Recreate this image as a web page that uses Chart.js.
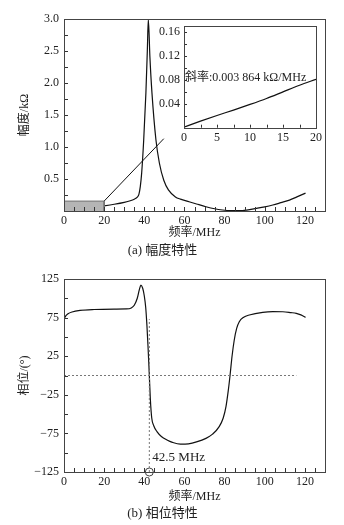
<!DOCTYPE html>
<html><head><meta charset="utf-8">
<script src="https://cdn.jsdelivr.net/npm/chart.js@4.4.1/dist/chart.umd.min.js"></script>
<style>
html,body{margin:0;padding:0;background:#fff;}
#wrap{position:relative;width:344px;height:525px;overflow:hidden;background:#fff;}
canvas{position:absolute;}
</style></head><body>
<div id="wrap">
<canvas id="amp" width="344" height="260" style="left:0;top:0"></canvas>
<canvas id="inset" width="180" height="130" style="left:148px;top:15px"></canvas>
<canvas id="phase" width="344" height="265" style="left:0;top:260px"></canvas>
</div>
<script>
// ---------- data ----------
const ampFreq  = [0,5,10,15,20,25,30,33,35,36.5,37.3,38,38.7,39.7,40.8,41.5,42,42.8,43.8,45.8,47.5,49.7,52,55.5,58,62.3,66,70.7,75,79,83,87.3,91,95.7,100,104,108,112.3,116,120.3];
const ampValue = [0,0.02,0.039,0.06,0.081,0.105,0.135,0.16,0.185,0.215,0.26,0.38,0.6,1.11,1.85,2.5,3.0,2.4,1.85,1.11,0.75,0.48,0.33,0.22,0.185,0.145,0.11,0.067,0.035,0.016,0.006,0.005,0.015,0.04,0.065,0.094,0.13,0.17,0.22,0.28];

const zoomFreq  = [0,20,20];
const zoomValue = [0.155,0.155,0];
const connectorFreq  = [20,49.7];
const connectorValue = [0.155,1.13];

const insetFreq  = [0,2.5,5,7.5,10,12.5,15,17.5,20];
const insetValue = [0.001,0.011,0.0205,0.0295,0.039,0.049,0.060,0.071,0.081];
const slopeText = '斜率:0.003 864 kΩ/MHz';

const phaseFreq  = [0,0.8,2,4,8,15,25,31,33.5,35,36.5,37.5,38.3,39.2,40,40.7,41.3,41.9,42.5,43,43.7,44.7,46.3,48.5,51.3,54,58,62,66,70.7,74,77.3,79.3,80.7,81.8,82.7,83.7,84.8,86,87.3,89.5,92.3,99,104,109,113,115.7,118,120.3];
const phaseValue = [73,77,80,82.3,84.3,85.5,86,86.2,87.5,91,100,111,117,113,103,88,65,35,0,-30,-55,-65,-72.7,-79,-83.5,-86.6,-89,-88.5,-86,-81.4,-76,-66.3,-55,-40,-20,0,25,46,61,69.7,75.5,78.4,81.8,82.7,82.6,81.5,80.5,78.5,75.3];
const zeroFreq  = [0,115.7];
const zeroPhase = [0,0];
const resFreq   = [42.5,42.5];
const resPhase  = [-125,73];
const resonanceText = '42.5 MHz';

// tick labels
const freqTickValues = [0,20,40,60,80,100,120];
const freqTickText   = ['0','20','40','60','80','100','120'];
const ampTickValues  = [0.5,1,1.5,2,2.5,3];
const ampTickText    = ['0.5','1.0','1.5','2.0','2.5','3.0'];
const insetXTickValues = [0,5,10,15,20];
const insetXTickText   = ['0','5','10','15','20'];
const insetYTickValues = [0.04,0.08,0.12,0.16];
const insetYTickText   = ['0.04','0.08','0.12','0.16'];
const phaseTickValues = [125,75,25,-25,-75,-125];
const phaseTickText   = ['125','75','25','−25','−75','−125'];

// ---------- helpers ----------
const FAM = '"Liberation Serif", "Times New Roman", "Noto Sans CJK SC", serif';
const zip = (xs, ys) => xs.map((x,i)=>({x, y: ys[i]}));
const labeler = (vals, texts) => v => { const i = vals.findIndex(t => Math.abs(t - v) < 1e-6); return i < 0 ? '' : texts[i]; };
// axis tick positions (minor + major) for a given step
const stepTicks = step => s => {
  const out = [];
  const n = Math.floor((s.max - s.min) / step + 1e-6);
  for (let i = 0; i <= n; i++) out.push({ value: +(s.min + i * step).toFixed(6) });
  s.ticks = out;
};

const frameTicks = {
  id: 'frameTicks',
  afterDatasetsDraw(chart, args, opts) {
    const {ctx, chartArea: a, scales} = chart;
    const xs = scales.x, ys = scales.y;
    ctx.save();
    ctx.strokeStyle = '#333';
    ctx.lineWidth = 1;
    ctx.beginPath();
    xs.ticks.forEach(t => {
      const px = Math.round(xs.getPixelForValue(t.value)) + 0.5;
      ctx.moveTo(px, a.bottom); ctx.lineTo(px, a.bottom - opts.len);
    });
    ys.ticks.forEach(t => {
      const py = Math.round(ys.getPixelForValue(t.value)) + 0.5;
      ctx.moveTo(a.left, py); ctx.lineTo(a.left + opts.len, py);
    });
    ctx.stroke();
    ctx.strokeStyle = '#444';
    ctx.strokeRect(Math.round(a.left) + 0.5, Math.round(a.top) + 0.5, Math.round(a.right - a.left), Math.round(a.bottom - a.top));
    ctx.restore();
  }
};

const textMarks = {
  id: 'textMarks',
  afterDatasetsDraw(chart, args, opts) {
    if (!opts.items) return;
    const {ctx, scales} = chart;
    ctx.save();
    opts.items.forEach(it => {
      ctx.font = it.size + 'px ' + FAM;
      ctx.fillStyle = '#222';
      ctx.textAlign = 'left';
      ctx.textBaseline = 'middle';
      ctx.fillText(it.text, scales.x.getPixelForValue(it.x) + (it.dx || 0), scales.y.getPixelForValue(it.y));
    });
    ctx.restore();
  }
};

const tickFont = {family: FAM, size: 12};
const noGrid = { display: false, drawTicks: false };
const base = { responsive: false, animation: false, devicePixelRatio: 1 };

// ---------- (a) amplitude ----------
new Chart(document.getElementById('amp'), {
  type: 'line',
  data: { datasets: [
    { data: zip(zoomFreq, zoomValue), borderColor: '#707070', borderWidth: 1, backgroundColor: '#b5b5b5', fill: 'origin', pointRadius: 0, tension: 0 },
    { data: zip(connectorFreq, connectorValue), borderColor: '#111', borderWidth: 1, pointRadius: 0, fill: false },
    { data: zip(ampFreq, ampValue), borderColor: '#111', borderWidth: 1.2, pointRadius: 0, fill: false, cubicInterpolationMode: 'monotone' }
  ]},
  options: { ...base,
    layout: { padding: { left: 0, right: 19, top: 19, bottom: 0 } },
    plugins: {
      legend: { display: false }, tooltip: { enabled: false },
      title: { display: true, position: 'bottom', text: '(a) 幅度特性', color: '#222', font: { family: FAM, size: 13, weight: 'normal' }, padding: { top: 0, bottom: 2 } },
      frameTicks: { len: 4 }
    },
    scales: {
      x: { type: 'linear', min: 0, max: 130, grid: noGrid, border: { display: false },
        afterBuildTicks: stepTicks(5),
        ticks: { autoSkip: false, maxRotation: 0, padding: 3, color: '#222', font: tickFont, callback: labeler(freqTickValues, freqTickText) },
        title: { display: true, text: '频率/MHz', color: '#222', font: { family: FAM, size: 12 }, padding: { top: 0, bottom: 2 } },
        afterFit: s => { s.height = 31.4; } },
      y: { type: 'linear', min: 0, max: 3, grid: noGrid, border: { display: false },
        afterBuildTicks: stepTicks(0.25),
        ticks: { autoSkip: false, padding: 5, color: '#222', font: tickFont, callback: labeler(ampTickValues, ampTickText) },
        title: { display: true, text: '幅度/kΩ', color: '#222', font: { family: FAM, size: 12 }, padding: { top: 18, bottom: 0 } },
        afterFit: s => { s.width = 64; } }
    }
  },
  plugins: [frameTicks]
});

// ---------- inset ----------
new Chart(document.getElementById('inset'), {
  type: 'line',
  data: { datasets: [
    { data: zip(insetFreq, insetValue), borderColor: '#111', borderWidth: 1.2, pointRadius: 0, fill: false, cubicInterpolationMode: 'monotone' }
  ]},
  options: { ...base,
    layout: { padding: { left: 0, right: 12, top: 9, bottom: 0 } },
    plugins: {
      legend: { display: false }, tooltip: { enabled: false },
      frameTicks: { len: 3 },
      textMarks: { items: [ { text: slopeText, x: 0, y: 0.083, size: 12, dx: 1 } ] }
    },
    scales: {
      x: { type: 'linear', min: 0, max: 20, grid: noGrid, border: { display: false },
        afterBuildTicks: stepTicks(2.5),
        ticks: { autoSkip: false, maxRotation: 0, padding: 3, color: '#222', font: tickFont, callback: labeler(insetXTickValues, insetXTickText) },
        afterFit: s => { s.height = 17.3; } },
      y: { type: 'linear', min: 0, max: 0.17, grid: noGrid, border: { display: false },
        afterBuildTicks: stepTicks(0.02),
        ticks: { autoSkip: false, padding: 4, color: '#222', font: tickFont, callback: labeler(insetYTickValues, insetYTickText) },
        afterFit: s => { s.width = 36; } }
    }
  },
  plugins: [frameTicks, textMarks]
});

// ---------- (b) phase ----------
new Chart(document.getElementById('phase'), {
  type: 'line',
  data: { datasets: [
    { data: zip(zeroFreq, zeroPhase), borderColor: '#777', borderWidth: 1, borderDash: [2, 2], pointRadius: 0, fill: false },
    { data: zip(resFreq, resPhase), borderColor: '#777', borderWidth: 1, borderDash: [2, 2], pointRadius: 0, fill: false },
    { data: zip(phaseFreq, phaseValue), borderColor: '#111', borderWidth: 1.2, pointRadius: 0, fill: false, cubicInterpolationMode: 'monotone' },
    { data: zip([resFreq[0]], [resPhase[0]]), showLine: false, pointRadius: 4, pointStyle: 'circle', pointBorderColor: '#444', pointBorderWidth: 1, pointBackgroundColor: 'rgba(0,0,0,0)', clip: false }
  ]},
  options: { ...base,
    layout: { padding: { left: 0, right: 19, top: 19, bottom: 0 } },
    plugins: {
      legend: { display: false }, tooltip: { enabled: false },
      title: { display: true, position: 'bottom', text: '(b) 相位特性', color: '#222', font: { family: FAM, size: 13, weight: 'normal' }, padding: { top: 0, bottom: 4 } },
      frameTicks: { len: 4 },
      textMarks: { items: [ { text: resonanceText, x: 44, y: -106, size: 13 } ] }
    },
    scales: {
      x: { type: 'linear', min: 0, max: 130, grid: noGrid, border: { display: false },
        afterBuildTicks: stepTicks(5),
        ticks: { autoSkip: false, maxRotation: 0, padding: 3, color: '#222', font: tickFont, callback: labeler(freqTickValues, freqTickText) },
        title: { display: true, text: '频率/MHz', color: '#222', font: { family: FAM, size: 12 }, padding: { top: 0, bottom: 1.5 } },
        afterFit: s => { s.height = 33.4; } },
      y: { type: 'linear', min: -125, max: 125, grid: noGrid, border: { display: false },
        afterBuildTicks: stepTicks(25),
        ticks: { autoSkip: false, padding: 5, color: '#222', font: tickFont, callback: labeler(phaseTickValues, phaseTickText) },
        title: { display: true, text: '相位/(°)', color: '#222', font: { family: FAM, size: 12 }, padding: { top: 18, bottom: 0 } },
        afterFit: s => { s.width = 64; } }
    }
  },
  plugins: [frameTicks, textMarks]
});
</script>
</body></html>
